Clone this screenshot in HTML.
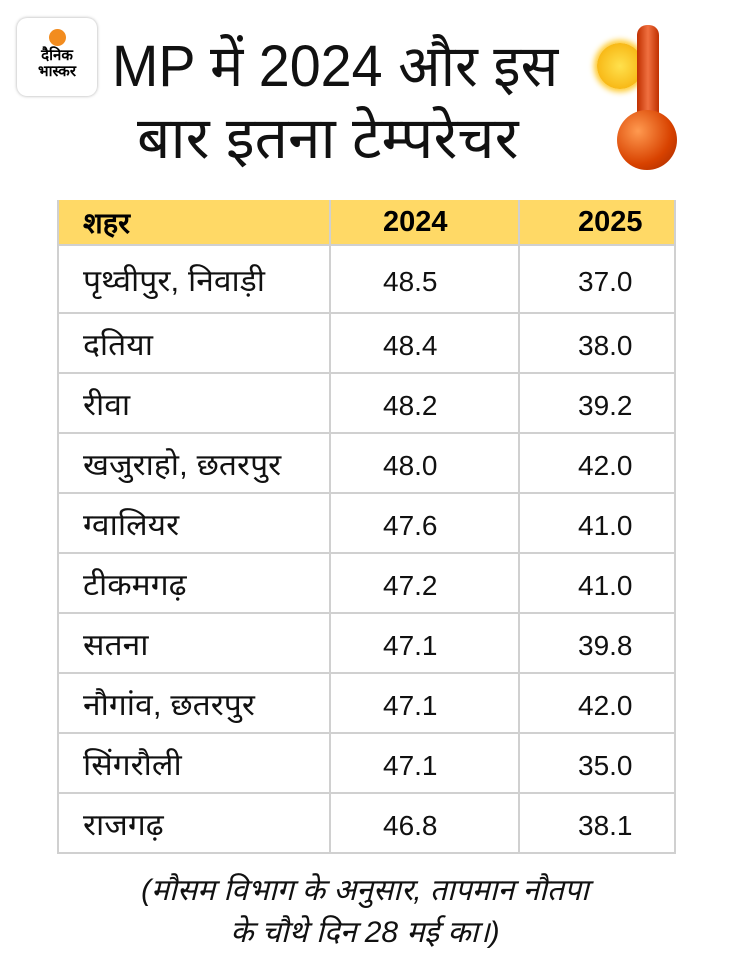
<!DOCTYPE html>
<html><head><meta charset="utf-8"><style>
body{margin:0;width:730px;height:978px;background:#fff;position:relative;overflow:hidden;font-family:"Liberation Sans","Noto Sans CJK SC",sans-serif;}
.t{position:absolute;font-size:58px;color:#111;white-space:nowrap;transform-origin:0 0;}
table{position:absolute;left:57px;top:200px;border-collapse:collapse;}
td{border:2px solid #d0d0d0;font-size:28px;color:#111;padding:0;height:58px;vertical-align:middle;white-space:nowrap;}
td.c2,td.c3{padding-top:6px;height:52px}
th{background:#ffd966;font-size:29px;font-weight:bold;text-align:left;height:42px;border-left:2px solid #d0d0d0;border-right:2px solid #d0d0d0;}
.c1{width:245px;padding-left:24px}.c2{width:134px;padding-left:52px}.c3{width:95px;padding-left:58px}
td.c1 span{display:inline-block;font-size:30px;transform:scaleX(1.06);transform-origin:0 50%}
.f{position:absolute;left:0;width:730px;text-align:center;font-style:italic;font-size:30px;color:#111;}
</style></head><body>
<div style="position:absolute;left:17px;top:18px;width:80px;height:78px;border-radius:10px;background:#fff;box-shadow:0 0 3px #aaa;text-align:center">
<div style="width:17px;height:17px;border-radius:50%;background:#f28c1f;margin:11px auto 2px"></div>
<div style="font-size:15px;font-weight:bold;line-height:16px">दैनिक<br>भास्कर</div></div>
<div class="t" style="top:24px;left:112px;transform:scaleX(0.96)">MP में 2024 और इस</div>
<div class="t" style="top:96px;left:137px;transform:scaleX(1.01)">बार इतना टेम्परेचर</div>
<div style="position:absolute;left:597px;top:43px;width:46px;height:46px;border-radius:50%;background:radial-gradient(#ffe14d,#f5a800);box-shadow:0 0 6px 3px #ffcc33"></div>
<div style="position:absolute;left:637px;top:25px;width:22px;height:120px;background:linear-gradient(90deg,#c03000,#f07040,#c03000);border-radius:10px 10px 0 0"></div>
<div style="position:absolute;left:617px;top:110px;width:60px;height:60px;border-radius:50%;background:radial-gradient(circle at 35% 35%,#ff9a50,#d84200 60%,#a02800)"></div>
<table>
<tr><th class="c1">शहर</th><th class="c2">2024</th><th class="c3">2025</th></tr>
<tr><td class="c1" style="height:66px"><span>पृथ्वीपुर, निवाड़ी</span></td><td class="c2">48.5</td><td class="c3">37.0</td></tr>
<tr><td class="c1"><span>दतिया</span></td><td class="c2">48.4</td><td class="c3">38.0</td></tr>
<tr><td class="c1"><span>रीवा</span></td><td class="c2">48.2</td><td class="c3">39.2</td></tr>
<tr><td class="c1"><span>खजुराहो, छतरपुर</span></td><td class="c2">48.0</td><td class="c3">42.0</td></tr>
<tr><td class="c1"><span>ग्वालियर</span></td><td class="c2">47.6</td><td class="c3">41.0</td></tr>
<tr><td class="c1"><span>टीकमगढ़</span></td><td class="c2">47.2</td><td class="c3">41.0</td></tr>
<tr><td class="c1"><span>सतना</span></td><td class="c2">47.1</td><td class="c3">39.8</td></tr>
<tr><td class="c1"><span>नौगांव, छतरपुर</span></td><td class="c2">47.1</td><td class="c3">42.0</td></tr>
<tr><td class="c1"><span>सिंगरौली</span></td><td class="c2">47.1</td><td class="c3">35.0</td></tr>
<tr><td class="c1"><span>राजगढ़</span></td><td class="c2">46.8</td><td class="c3">38.1</td></tr>
</table>
<div class="f" style="top:868px">(मौसम विभाग के अनुसार, तापमान नौतपा</div>
<div class="f" style="top:910px">के चौथे दिन 28 मई का।)</div>
</body></html>
